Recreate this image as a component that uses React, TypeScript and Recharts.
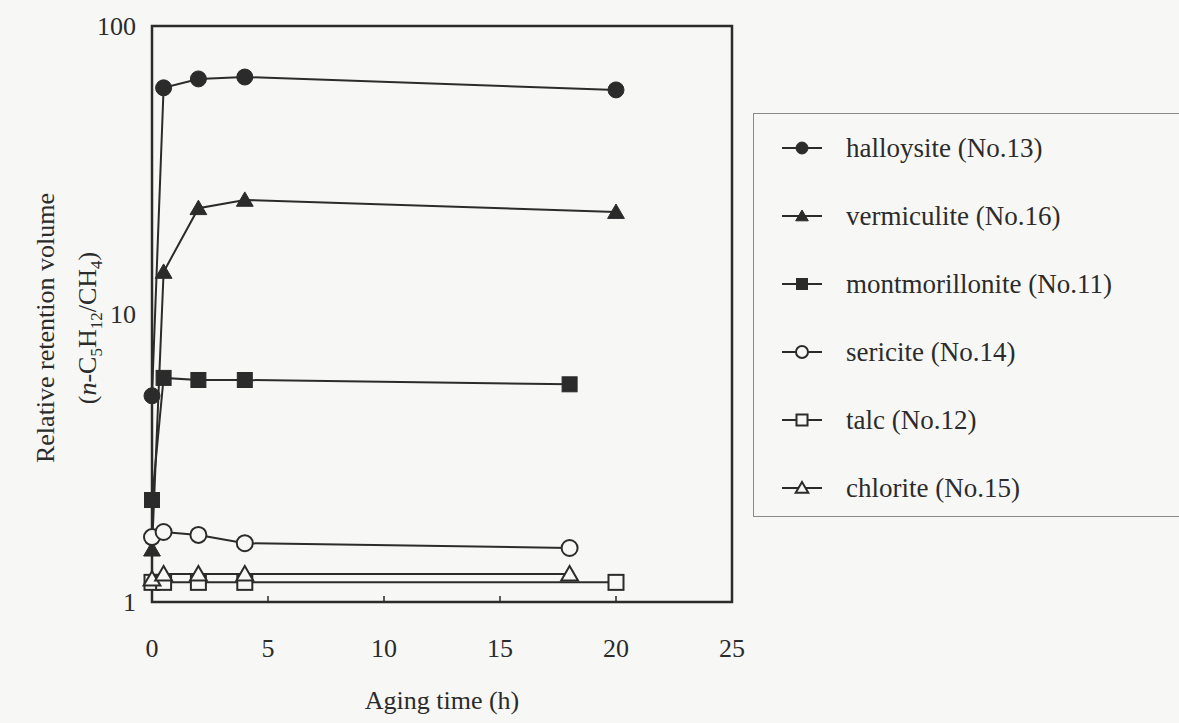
import { LineChart, Line, XAxis, YAxis, Legend, ReferenceArea } from "recharts";

// Aging time (h) and relative retention volume for each clay mineral
const halloysiteTime = [0, 0.5, 2, 4, 20];
const halloysite = [5.2, 61, 65.5, 66.5, 60];
const vermiculiteTime = [0, 0.5, 2, 4, 20];
const vermiculite = [1.52, 14, 23.3, 24.9, 22.6];
const montmorilloniteTime = [0, 0.5, 2, 4, 18];
const montmorillonite = [2.26, 6.0, 5.9, 5.9, 5.7];
const sericiteTime = [0, 0.5, 2, 4, 18];
const sericite = [1.68, 1.75, 1.71, 1.6, 1.54];
const talcTime = [0, 0.5, 2, 4, 20];
const talc = [1.17, 1.17, 1.17, 1.17, 1.17];
const chloriteTime = [0, 0.5, 2, 4, 18];
const chlorite = [1.2, 1.25, 1.25, 1.25, 1.25];

const xTicks = [0, 5, 10, 15, 20, 25];
const yTicks = [1, 10, 100];

const INK = "#2b2b2b";
const FONT = "'Liberation Serif', 'Times New Roman', serif";

type MarkerKind = "circle" | "triangle" | "square";

const series = [
  { name: "halloysite (No.13)", time: halloysiteTime, values: halloysite, marker: "circle" as MarkerKind, filled: true },
  { name: "vermiculite (No.16)", time: vermiculiteTime, values: vermiculite, marker: "triangle" as MarkerKind, filled: true },
  { name: "montmorillonite (No.11)", time: montmorilloniteTime, values: montmorillonite, marker: "square" as MarkerKind, filled: true },
  { name: "sericite (No.14)", time: sericiteTime, values: sericite, marker: "circle" as MarkerKind, filled: false },
  { name: "talc (No.12)", time: talcTime, values: talc, marker: "square" as MarkerKind, filled: false },
  { name: "chlorite (No.15)", time: chloriteTime, values: chlorite, marker: "triangle" as MarkerKind, filled: false },
];

function Marker({ cx, cy, kind, filled, size }: { cx: number; cy: number; kind: MarkerKind; filled: boolean; size: number }) {
  const fill = filled ? INK : "#f7f7f5";
  const sw = filled ? 1 : 2;
  if (kind === "circle") {
    return <circle cx={cx} cy={cy} r={size / 2} fill={fill} stroke={INK} strokeWidth={sw} />;
  }
  if (kind === "square") {
    const h = size / 2 - 0.5;
    return <rect x={cx - h} y={cy - h} width={h * 2} height={h * 2} fill={fill} stroke={INK} strokeWidth={sw} />;
  }
  const h = size / 2;
  const pts = `${cx},${cy - h} ${cx + h * 1.05},${cy + h * 0.8} ${cx - h * 1.05},${cy + h * 0.8}`;
  return <polygon points={pts} fill={fill} stroke={INK} strokeWidth={sw} strokeLinejoin="miter" />;
}

function makeDot(kind: MarkerKind, filled: boolean) {
  return (props: any) => {
    const { cx, cy, index } = props;
    if (cx == null || cy == null) return <g key={index} />;
    return <Marker key={index} cx={cx} cy={cy} kind={kind} filled={filled} size={16} />;
  };
}

function XTick(props: any) {
  const { x, y, payload } = props;
  const axisY = y - 36;
  return (
    <g>
      {payload.value !== 0 && payload.value !== 25 && (
        <line x1={x} y1={axisY} x2={x} y2={axisY - 6} stroke={INK} strokeWidth={1.5} />
      )}
      <text x={x} y={y + 19} textAnchor="middle" fontFamily={FONT} fontSize={26} fill={INK}>
        {payload.value}
      </text>
    </g>
  );
}

function YTick(props: any) {
  const { x, y, payload } = props;
  return (
    <text x={x} y={y + 9} textAnchor="end" fontFamily={FONT} fontSize={26} fill={INK}>
      {payload.value}
    </text>
  );
}

function YTitle(props: any) {
  const { viewBox } = props;
  const cy = viewBox.y + viewBox.height / 2 + 14;
  const x1 = 54;
  const x2 = 96;
  return (
    <g fontFamily={FONT} fontSize={26} fill={INK}>
      <text x={x1} y={cy} textAnchor="middle" transform={`rotate(-90, ${x1}, ${cy})`}>
        Relative retention volume
      </text>
      <text x={x2} y={cy} textAnchor="middle" transform={`rotate(-90, ${x2}, ${cy})`}>
        (<tspan fontStyle="italic">n</tspan>-C
        <tspan fontSize={17} dy={6}>5</tspan>
        <tspan dy={-6}>H</tspan>
        <tspan fontSize={17} dy={6}>12</tspan>
        <tspan dy={-6}>/CH</tspan>
        <tspan fontSize={17} dy={6}>4</tspan>
        <tspan dy={-6}>)</tspan>
      </text>
    </g>
  );
}

// Boxed legend on the right; each row is an svg line+marker sample followed by the name
function LegendBox() {
  return (
    <div
      style={{
        width: 440,
        height: 404,
        border: "1.5px solid #8a8a8a",
        boxSizing: "border-box",
      }}
    >
      {series.map((s) => (
        <div key={s.name} style={{ display: "flex", alignItems: "center", height: 68 }}>
          <svg width={92} height={30} style={{ flex: "none" }}>
            <line x1={28} y1={15} x2={68} y2={15} stroke={INK} strokeWidth={2} />
            <Marker cx={48} cy={15} kind={s.marker} filled={s.filled} size={12} />
          </svg>
          <svg width={340} height={40} style={{ flex: "none" }}>
            <text x={0} y={29} fontFamily={FONT} fontSize={27} fill={INK}>
              {s.name}
            </text>
          </svg>
        </div>
      ))}
    </div>
  );
}

export default function App() {
  return (
    <div style={{ position: "absolute", left: 0, top: 0, width: 1179, height: 723, background: "#f7f7f5", overflow: "hidden" }}>
      <LineChart width={1179} height={723} margin={{ top: 26, right: 447, bottom: 0, left: 0 }}>
        <XAxis
          type="number"
          dataKey="x"
          domain={[0, 25]}
          ticks={xTicks}
          allowDuplicatedCategory={false}
          height={121}
          tickSize={0}
          tickMargin={36}
          tickLine={false}
          axisLine={false}
          tick={<XTick />}
          label={{ value: "Aging time (h)", position: "insideBottom", offset: 14, fontFamily: FONT, fontSize: 26, fill: INK }}
        />
        <YAxis
          type="number"
          dataKey="y"
          scale="log"
          domain={[1, 100]}
          ticks={yTicks}
          allowDataOverflow
          width={152}
          tickSize={0}
          tickMargin={16}
          tickLine={false}
          axisLine={false}
          tick={<YTick />}
          label={<YTitle />}
        />
        <ReferenceArea x1={0} x2={25} y1={1} y2={100} fill="none" stroke={INK} strokeWidth={2.5} ifOverflow="visible" />
        <Legend
          layout="vertical"
          align="center"
          verticalAlign="middle"
          content={() => <LegendBox />}
          wrapperStyle={{ left: 753, top: 113, width: 440, height: 404 }}
        />
        {series.map((s) => (
          <Line
            key={s.name}
            name={s.name}
            data={s.time.map((t, i) => ({ x: t, y: s.values[i] }))}
            dataKey="y"
            stroke={INK}
            strokeWidth={2}
            dot={makeDot(s.marker, s.filled)}
            activeDot={false}
            isAnimationActive={false}
          />
        ))}
      </LineChart>
    </div>
  );
}
